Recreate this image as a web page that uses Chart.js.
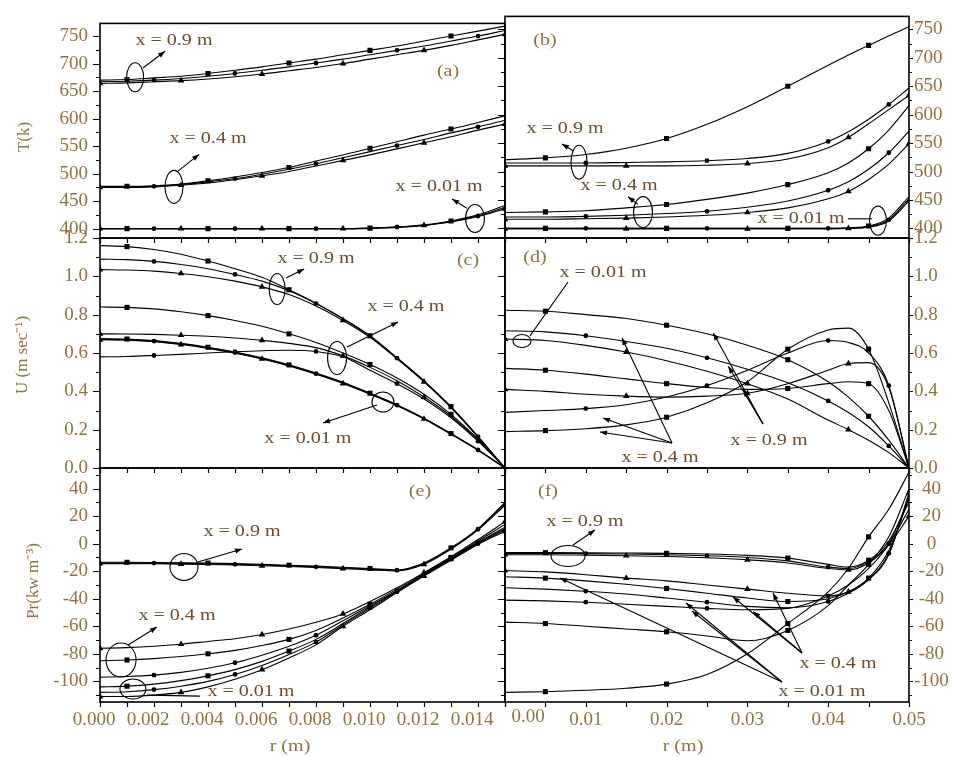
<!DOCTYPE html>
<html>
<head>
<meta charset="utf-8">
<title>T, U, Pr profiles</title>
<script src="https://cdn.jsdelivr.net/npm/chart.js@4.4.0/dist/chart.umd.min.js"></script>
<style>
  html, body { margin: 0; padding: 0; background: #fff; }
  #wrap { position: relative; width: 953px; height: 757px; }
  #wrap canvas { position: absolute; left: 0; top: 0; }
</style>
</head>
<body>
<div id="wrap">
  <canvas id="pa" width="953" height="757"></canvas>
  <canvas id="pb" width="953" height="757"></canvas>
  <canvas id="pc" width="953" height="757"></canvas>
  <canvas id="pd" width="953" height="757"></canvas>
  <canvas id="pe" width="953" height="757"></canvas>
  <canvas id="pf" width="953" height="757"></canvas>
</div>
<script>
// radial positions (m)
const rNarrow = [0, 0.001, 0.002, 0.003, 0.004, 0.005, 0.006, 0.007, 0.008, 0.009, 0.010, 0.011, 0.012, 0.013, 0.014, 0.015];
const rWide = [0, 0.005, 0.01, 0.015, 0.02, 0.025, 0.03, 0.035, 0.04, 0.0425, 0.045, 0.0475, 0.05];

// tick labels
const tempTicks = [400, 450, 500, 550, 600, 650, 700, 750];
const velTicks = [0, 0.2, 0.4, 0.6, 0.8, 1.0, 1.2];
const presTicks = [-100, -80, -60, -40, -20, 0, 20, 40];
const rNarrowTicks = [0, 0.002, 0.004, 0.006, 0.008, 0.010, 0.012, 0.014];
const rWideTicks = [0, 0.01, 0.02, 0.03, 0.04, 0.05];

// (a) T(k), narrow duct
const tA09s = [670, 671, 674, 677, 682, 688, 694, 701, 708, 716, 724, 732, 741, 750, 759, 768];
const tA09c = [667, 668, 670, 673, 677, 682, 688, 694, 701, 708, 716, 724, 732, 741, 750, 760];
const tA09t = [664, 665, 667, 669, 672, 676, 681, 687, 693, 700, 708, 716, 724, 733, 743, 753];
const tA04s = [477, 477, 478, 481, 487, 494, 502, 511, 523, 534, 546, 558, 570, 581, 593, 605];
const tA04c = [476, 476, 477, 480, 485, 491, 499, 508, 518, 529, 540, 551, 562, 574, 585, 597];
const tA04t = [475, 475, 476, 479, 483, 489, 496, 504, 514, 524, 534, 545, 556, 567, 579, 590];
const tA001s = [400, 400, 400, 400, 400, 400, 400, 400, 400, 400, 401, 403, 407, 414, 425, 442];
const tA001c = [400, 400, 400, 400, 400, 400, 400, 400, 400, 400, 401, 403, 406, 413, 423, 439];
const tA001t = [400, 400, 400, 400, 400, 400, 400, 400, 400, 400, 400, 402, 406, 412, 422, 436];

// (b) T(k), wide duct
const tB09s = [521, 524, 530, 541, 558, 583, 614, 650, 687, 705, 722, 739, 755];
const tB09c = [515, 515, 515, 516, 517, 519, 523, 532, 553, 570, 592, 618, 647];
const tB09t = [510, 510, 510, 510, 510, 511, 514, 522, 542, 560, 584, 609, 634];
const tB04s = [428, 429, 431, 436, 442, 451, 462, 477, 498, 515, 540, 573, 616];
const tB04c = [420, 420, 421, 423, 426, 430, 437, 448, 467, 482, 504, 533, 571];
const tB04t = [416, 416, 417, 418, 420, 423, 428, 436, 452, 465, 486, 513, 549];
const tB001s = [400, 400, 400, 400, 400, 400, 400, 400, 400, 401, 404, 418, 456];
const tB001c = [400, 400, 400, 400, 400, 400, 400, 400, 400, 400, 403, 415, 452];
const tB001t = [399, 399, 399, 399, 399, 399, 399, 399, 399, 400, 402, 413, 448];

// (c) U (m/s), narrow duct
const uC09s = [1.16, 1.155, 1.14, 1.115, 1.08, 1.04, 0.995, 0.93, 0.86, 0.78, 0.69, 0.575, 0.455, 0.32, 0.165, 0];
const uC09c = [1.09, 1.087, 1.078, 1.062, 1.04, 1.01, 0.975, 0.925, 0.858, 0.778, 0.688, 0.573, 0.453, 0.318, 0.163, 0];
const uC09t = [1.035, 1.033, 1.027, 1.015, 0.998, 0.975, 0.945, 0.905, 0.845, 0.77, 0.682, 0.57, 0.45, 0.315, 0.16, 0];
const uC04s = [0.84, 0.838, 0.83, 0.815, 0.795, 0.77, 0.74, 0.70, 0.655, 0.60, 0.54, 0.47, 0.385, 0.28, 0.15, 0];
const uC04t = [0.70, 0.699, 0.697, 0.693, 0.687, 0.678, 0.666, 0.65, 0.628, 0.585, 0.525, 0.455, 0.37, 0.27, 0.145, 0];
const uC04c = [0.58, 0.582, 0.587, 0.593, 0.60, 0.607, 0.612, 0.614, 0.608, 0.58, 0.51, 0.44, 0.36, 0.262, 0.14, 0];
const uC001s = [0.675, 0.673, 0.665, 0.65, 0.63, 0.605, 0.575, 0.538, 0.495, 0.447, 0.39, 0.33, 0.26, 0.18, 0.095, 0];
const uC001c = [0.672, 0.670, 0.662, 0.647, 0.627, 0.602, 0.572, 0.535, 0.492, 0.444, 0.388, 0.328, 0.258, 0.178, 0.094, 0];
const uC001t = [0.669, 0.667, 0.659, 0.644, 0.624, 0.599, 0.569, 0.532, 0.489, 0.441, 0.385, 0.325, 0.256, 0.176, 0.093, 0];

// (d) U (m/s), wide duct
const uD001s = [0.823, 0.818, 0.80, 0.78, 0.745, 0.70, 0.64, 0.565, 0.45, 0.37, 0.27, 0.145, 0];
const uD001c = [0.716, 0.71, 0.69, 0.66, 0.625, 0.575, 0.515, 0.445, 0.35, 0.29, 0.215, 0.115, 0];
const uD001t = [0.673, 0.665, 0.64, 0.605, 0.56, 0.505, 0.44, 0.36, 0.25, 0.20, 0.145, 0.08, 0];
const uD04s = [0.52, 0.51, 0.49, 0.465, 0.44, 0.42, 0.41, 0.415, 0.44, 0.45, 0.44, 0.30, 0];
const uD04t = [0.41, 0.40, 0.385, 0.375, 0.37, 0.375, 0.39, 0.44, 0.51, 0.545, 0.55, 0.42, 0];
const uD09c = [0.29, 0.30, 0.31, 0.33, 0.37, 0.43, 0.51, 0.60, 0.665, 0.655, 0.60, 0.43, 0];
const uD09s = [0.19, 0.195, 0.205, 0.225, 0.265, 0.34, 0.45, 0.62, 0.72, 0.73, 0.62, 0.34, 0];

// (e) Pr (kW/m3), narrow duct
const pE09s = [-13.5, -13.5, -13.6, -13.8, -14.1, -14.5, -15, -15.6, -16.3, -17.1, -18, -19, -14, -3, 11, 30];
const pE09c = [-14, -14, -14.1, -14.3, -14.6, -15, -15.5, -16.1, -16.8, -17.6, -18.5, -19.3, -14.5, -3.5, 10.5, 29];
const pE09t = [-14.5, -14.5, -14.6, -14.8, -15.1, -15.5, -16, -16.6, -17.3, -18.1, -19, -19.8, -15, -4, 10, 28];
const pE04t = [-76, -75.5, -74.5, -73, -71, -69, -66, -62, -57, -51, -42, -32, -21, -9.5, 3, 16];
const pE04s = [-85, -84.5, -83.5, -82, -80, -77.5, -74, -69.5, -63, -54, -44, -33, -21.5, -10, 2, 14];
const pE04c = [-97, -96.5, -95.5, -93.5, -90.5, -86.5, -81, -74.5, -66.5, -56, -45, -34, -22, -10.5, 1, 12];
const pE001s = [-104, -103.5, -102, -99.5, -96, -91.5, -85.5, -78, -69.5, -58, -46, -34.5, -22.5, -11, 0.5, 11];
const pE001c = [-108, -107.5, -106, -103.5, -100, -95, -88.5, -80.5, -71.5, -59, -47, -35, -23, -11.5, 0, 10];
const pE001t = [-111, -111, -110, -108, -104, -98.5, -91.5, -83, -73.5, -60, -48, -35.5, -23.5, -12, -0.5, 9];

// (f) Pr (kW/m3), wide duct
const pF09s = [-6.5, -6.5, -6.6, -6.8, -7, -7.5, -8.5, -10.5, -15, -17, -12, 2, 30];
const pF09c = [-7, -7, -7.2, -7.5, -8, -8.8, -10, -12.5, -17, -18, -13, 0, 25];
const pF09t = [-8, -8, -8.3, -8.7, -9.3, -10.2, -11.7, -14, -18, -19, -14, -1, 20];
const pF04t = [-19.5, -20.5, -22.5, -25, -27, -30, -33, -36, -38, -35, -26, -8, 37];
const pF04s = [-24, -25, -27, -29.5, -32.5, -36, -39.5, -42, -40, -35, -25, -5, 33];
const pF04c = [-32, -33, -34.5, -36.5, -39.5, -42.5, -45.5, -46.5, -42, -36, -26, -7, 35];
const pF001c = [-41, -41.5, -42.5, -44, -45.5, -47, -48, -47, -38, -30, -18, 0, 33];
const pF001t = [-57, -58, -60, -62, -64, -67, -70.5, -63, -45, -30, -15, 5, 40];
const pF001s = [-108, -107.5, -106.5, -105, -102, -95, -80, -58, -35, -18, 5, 25, 52];

// which marker each curve carries
const seriesA = [[tA09s, 'rect'], [tA09c, 'circle'], [tA09t, 'triangle'], [tA04s, 'rect'], [tA04c, 'circle'], [tA04t, 'triangle'], [tA001s, 'rect'], [tA001c, 'circle'], [tA001t, 'triangle']];
const seriesB = [[tB09s, 'rect'], [tB09c, 'circle'], [tB09t, 'triangle'], [tB04s, 'rect'], [tB04c, 'circle'], [tB04t, 'triangle'], [tB001s, 'rect'], [tB001c, 'circle'], [tB001t, 'triangle']];
const seriesC = [[uC09s, 'rect'], [uC09c, 'circle'], [uC09t, 'triangle'], [uC04s, 'rect'], [uC04t, 'triangle'], [uC04c, 'circle'], [uC001s, 'rect'], [uC001c, 'circle'], [uC001t, 'triangle']];
const seriesD = [[uD001s, 'rect'], [uD001c, 'circle'], [uD001t, 'triangle'], [uD04s, 'rect'], [uD04t, 'triangle'], [uD09c, 'circle'], [uD09s, 'rect']];
const seriesE = [[pE09s, 'rect'], [pE09c, 'circle'], [pE09t, 'triangle'], [pE04t, 'triangle'], [pE04s, 'rect'], [pE04c, 'circle'], [pE001s, 'rect'], [pE001c, 'circle'], [pE001t, 'triangle']];
const seriesF = [[pF09s, 'rect'], [pF09c, 'circle'], [pF09t, 'triangle'], [pF04t, 'triangle'], [pF04s, 'rect'], [pF04c, 'circle'], [pF001c, 'circle'], [pF001t, 'rect'], [pF001s, 'rect']];

// annotations, in data units: texts [s, r, v], ellipses [r, v, rx, ry], arrows [r1, v1, r2, v2]
const annA = {
  texts: [['x = 0.9 m', 0.00274, 742.6], ['x = 0.4 m', 0.0040, 563.7], ['x = 0.01 m', 0.01256, 475.9], ['(a)', 0.01289, 685.2]],
  ellipses: [[0.0013, 675.1, 8.5, 14.5], [0.00274, 475.9, 9, 16.5], [0.01389, 418.5, 9.5, 14]],
  arrows: [[0.00159, 692, 0.00241, 722.4], [0.00289, 504.6, 0.00367, 535], [0.01359, 437, 0.01304, 454]],
  lines: []
};
const annB = {
  texts: [['(b)', 0.00495, 730.8], ['x = 0.9 m', 0.00743, 575.5], ['x = 0.4 m', 0.01411, 475.9], ['x = 0.01 m', 0.03663, 416.8]],
  ellipses: [[0.00916, 516.4, 8, 17], [0.01708, 428.6, 9.5, 15.5], [0.04616, 413.5, 8.5, 14.5]],
  arrows: [[0.00842, 536.7, 0.00705, 548.5], [0.01646, 442.2, 0.01522, 455.7]],
  lines: [[0.04245, 416.8, 0.04542, 416.8]]
};
const annC = {
  texts: [['(c)', 0.01363, 1.08], ['x = 0.9 m', 0.0080, 1.0904], ['x = 0.4 m', 0.01133, 0.84], ['x = 0.01 m', 0.0077, 0.1514]],
  ellipses: [[0.00656, 0.934, 8, 15.5], [0.00878, 0.574, 9.5, 16.5], [0.01048, 0.3444, 11, 10]],
  arrows: [[0.00689, 0.991, 0.00756, 1.038], [0.00915, 0.631, 0.01104, 0.762], [0.01026, 0.329, 0.00826, 0.235]],
  lines: []
};
const annD = {
  texts: [['(d)', 0.00371, 1.0957], ['x = 0.01 m', 0.01213, 1.0174], ['x = 0.9 m', 0.03267, 0.141], ['x = 0.4 m', 0.01918, 0.0522]],
  ellipses: [[0.0021, 0.6626, 9, 6.5]],
  arrows: [[0.03193, 0.2296, 0.02578, 0.7044], [0.03193, 0.2296, 0.02764, 0.5304], [0.03193, 0.2296, 0.0295, 0.4087],
           [0.02067, 0.1305, 0.01448, 0.6783], [0.02067, 0.1305, 0.01213, 0.261], [0.02067, 0.1305, 0.01176, 0.188]],
  lines: [[0.00309, 0.689, 0.0078, 0.9704]]
};
const annE = {
  texts: [['(e)', 0.01185, 37.56], ['x = 0.9 m', 0.00526, 8.5], ['x = 0.4 m', 0.00285, -52.5], ['x = 0.01 m', 0.00559, -107.7]],
  ellipses: [[0.00311, -16.9, 14, 13.5], [0.00078, -84.5, 15, 17], [0.00122, -105.6, 13, 10]],
  arrows: [[0.00363, -13.3, 0.00526, -3.85], [0.00104, -73.6, 0.00211, -60.5]],
  lines: [[0.00174, -110, 0.0037, -110.7]]
};
const annF = {
  texts: [['(f)', 0.00532, 37.56], ['x = 0.9 m', 0.0099, 15.8], ['x = 0.4 m', 0.04121, -86.7], ['x = 0.01 m', 0.03923, -107.7]],
  ellipses: [[0.0078, -8.9, 17, 10.5]],
  arrows: [[0.00842, -0.94, 0.01114, 9.96],
           [0.03676, -79.4, 0.03317, -35.8], [0.03676, -79.4, 0.02822, -38.7], [0.03676, -79.4, 0.03073, -49.4],
           [0.03428, -100.5, 0.00681, -24.9], [0.03428, -100.5, 0.0224, -43.1], [0.03428, -100.5, 0.02314, -48.9]],
  lines: []
};

const TICK_COLOR = '#94703f';
const NOTE_COLOR = '#6b4c2c';
const SERIF = 'Liberation Serif';
const markerPhase = {rect: 1, circle: 2, triangle: 0};
const markerSize = {rect: 3.6, circle: 2.4, triangle: 3.8};

const W = 953, H = 757;
const cols = [{left: 100, right: 505}, {left: 505, right: 909}];
const rows = [{top: 7, bottom: 238}, {top: 238, bottom: 468}, {top: 468, bottom: 702}];

function stretchText(ctx, s, x, y, size, color, sx, rot) {
  ctx.save();
  ctx.translate(x, y);
  if (rot) ctx.rotate(rot);
  ctx.scale(sx, 1);
  ctx.font = size + 'px "' + SERIF + '"';
  ctx.fillStyle = color;
  ctx.textAlign = 'center';
  ctx.textBaseline = 'middle';
  ctx.fillText(s, 0, 0);
  ctx.restore();
}

function arrow(ctx, x1, y1, x2, y2, head) {
  ctx.beginPath();
  ctx.moveTo(x1, y1);
  ctx.lineTo(x2, y2);
  ctx.stroke();
  if (!head) return;
  const ang = Math.atan2(y2 - y1, x2 - x1), L = 7, Wd = 2.6;
  const c = Math.cos(ang), s = Math.sin(ang);
  ctx.beginPath();
  ctx.moveTo(x2, y2);
  ctx.lineTo(x2 - L * c + Wd * s, y2 - L * s - Wd * c);
  ctx.lineTo(x2 - L * c - Wd * s, y2 - L * s + Wd * c);
  ctx.closePath();
  ctx.fill();
}

const decor = {
  id: 'decor',
  afterDatasetsDraw(chart, args, o) {
    const {ctx, chartArea: a} = chart;
    const xs = chart.scales.x, ys = chart.scales.y;
    const X = v => xs.getPixelForValue(v), Y = v => ys.getPixelForValue(v);
    ctx.save();
    ctx.strokeStyle = '#000';
    ctx.fillStyle = '#000';

    // frame
    ctx.lineWidth = 1.6;
    ctx.strokeRect(a.left, a.top, a.right - a.left, a.bottom - a.top);

    // tick marks, all pointing outwards
    ctx.lineWidth = 1.2;
    ctx.beginPath();
    const nx = Math.round((o.xMax - o.xMin) / o.xMinor);
    for (let k = 0; k <= nx; k++) {
      const v = o.xMin + k * o.xMinor;
      const px = Math.round(X(v)) + 0.5;
      ctx.moveTo(px, a.bottom);
      ctx.lineTo(px, a.bottom + 5);
    }
    const k0 = Math.ceil(ys.min / o.yMinor - 1e-9), k1 = Math.floor(ys.max / o.yMinor + 1e-9);
    for (let k = k0; k <= k1; k++) {
      const v = k * o.yMinor;
      const py = Math.round(Y(v)) + 0.5;
      const major = o.yTicks.some(t => Math.abs(t - v) < 1e-9);
      const len = major ? 7 : 4;
      ctx.moveTo(a.left, py); ctx.lineTo(a.left - len, py);
      if (o.rightAxis) { ctx.moveTo(a.right, py); ctx.lineTo(a.right + (major ? 4 : 3), py); }
    }
    ctx.stroke();

    // annotations
    const ann = o.ann;
    ctx.lineWidth = 1.1;
    ann.ellipses.forEach(([r, v, rx, ry]) => {
      ctx.beginPath();
      ctx.ellipse(X(r), Y(v), rx, ry, 0, 0, Math.PI * 2);
      ctx.stroke();
    });
    ann.arrows.forEach(([r1, v1, r2, v2]) => arrow(ctx, X(r1), Y(v1), X(r2), Y(v2), true));
    ann.lines.forEach(([r1, v1, r2, v2]) => arrow(ctx, X(r1), Y(v1), X(r2), Y(v2), false));
    ann.texts.forEach(([s, r, v]) => {
      const isLetter = s.charAt(0) === '(';
      stretchText(ctx, s, X(r), Y(v), 17, isLetter ? TICK_COLOR : NOTE_COLOR, 1.18, 0);
    });

    // axis titles
    (o.titles || []).forEach(t => stretchText(ctx, t.text, t.x, t.y, 17, TICK_COLOR, t.sx || 1, t.rot || 0));

    // the first label of the wide-duct r axis sits right of its tick
    if (o.zeroLabel) {
      ctx.font = '19px "' + SERIF + '"';
      ctx.fillStyle = TICK_COLOR;
      ctx.textAlign = 'center';
      ctx.textBaseline = 'middle';
      ctx.fillText('0.00', X(0) + 23, 717);
    }
    ctx.restore();
  }
};

function buildDatasets(rs, series) {
  return series.map(([vals, shape]) => ({
    data: rs.map((r, i) => ({x: r, y: vals[i]})),
    borderColor: '#000',
    borderWidth: 1.1,
    pointStyle: shape,
    pointBackgroundColor: '#000',
    pointBorderColor: '#000',
    pointBorderWidth: 0,
    pointRadius: c => (c.dataIndex % 3 === markerPhase[shape]) ? markerSize[shape] : 0,
    cubicInterpolationMode: 'monotone',
    fill: false
  }));
}

function makePanel(p) {
  const col = cols[p.col], row = rows[p.row];
  const wide = p.col === 1;
  const bottomRow = p.row === 2;
  const xTicks = wide ? rWideTicks : rNarrowTicks;
  const xMax = wide ? 0.05 : 0.015;
  const xMinor = wide ? 0.005 : 0.001;
  // the axis boxes take up the margin so their labels are not clipped
  const yBox = wide ? W - col.right : col.left;
  const xBox = bottomRow ? H - row.bottom : 0;
  new Chart(document.getElementById(p.id), {
    type: 'line',
    data: {datasets: buildDatasets(wide ? rWide : rNarrow, p.series)},
    options: {
      responsive: false,
      devicePixelRatio: 1,
      animation: false,
      events: [],
      layout: {padding: {
        left: wide ? col.left : 0,
        right: wide ? 0 : W - col.right,
        top: row.top,
        bottom: H - row.bottom - xBox
      }},
      plugins: {
        legend: {display: false},
        tooltip: {enabled: false},
        decor: {
          xMin: 0, xMax: xMax, xMinor: xMinor,
          yTicks: p.yTicks, yMinor: p.yMinor,
          rightAxis: wide, ann: p.ann, titles: p.titles,
          zeroLabel: wide && bottomRow
        }
      },
      scales: {
        x: {
          type: 'linear', position: 'bottom', min: 0, max: xMax,
          afterBuildTicks: s => { s.ticks = xTicks.map(v => ({value: v})); },
          afterFit: s => { s.height = xBox; },
          grid: {display: false, drawTicks: false},
          border: {display: false},
          ticks: {
            display: bottomRow, autoSkip: false, maxRotation: 0, minRotation: 0,
            padding: 7, labelOffset: wide ? 0 : -6,
            font: {family: SERIF, size: 19}, color: TICK_COLOR,
            callback: v => wide ? (v === 0 ? '' : v.toFixed(2)) : v.toFixed(3)
          }
        },
        y: {
          type: 'linear', position: wide ? 'right' : 'left', min: p.yMin, max: p.yMax,
          afterBuildTicks: s => { s.ticks = p.yTicks.map(v => ({value: v})); },
          afterFit: s => { s.width = yBox; },
          grid: {display: false, drawTicks: false},
          border: {display: false},
          ticks: {
            autoSkip: false, padding: wide ? 5 : 12,
            crossAlign: wide ? 'center' : 'near',
            font: {family: SERIF, size: 19}, color: TICK_COLOR,
            callback: p.yFmt
          }
        }
      }
    },
    plugins: [decor]
  });
}

const fmtInt = v => String(Math.round(v));
const fmtOne = v => v.toFixed(1);

makePanel({id: 'pa', col: 0, row: 0, series: seriesA, yMin: 383, yMax: 773, yTicks: tempTicks, yMinor: 25, yFmt: fmtInt, ann: annA,
  titles: [{text: 'T(k)', x: 25, y: 137, rot: -Math.PI / 2}]});
makePanel({id: 'pb', col: 1, row: 0, series: seriesB, yMin: 383, yMax: 773, yTicks: tempTicks, yMinor: 25, yFmt: fmtInt, ann: annB});
makePanel({id: 'pc', col: 0, row: 1, series: seriesC, yMin: 0, yMax: 1.2, yTicks: velTicks, yMinor: 0.1, yFmt: fmtOne, ann: annC,
  titles: [{text: 'U (m sec\u207B\u00B9)', x: 23, y: 355, rot: -Math.PI / 2}]});
makePanel({id: 'pd', col: 1, row: 1, series: seriesD, yMin: 0, yMax: 1.2, yTicks: velTicks, yMinor: 0.1, yFmt: fmtOne, ann: annD});
makePanel({id: 'pe', col: 0, row: 2, series: seriesE, yMin: -115, yMax: 55, yTicks: presTicks, yMinor: 10, yFmt: fmtInt, ann: annE,
  titles: [{text: 'Pr(kw m\u207B\u00B3)', x: 34, y: 581, rot: -Math.PI / 2}, {text: 'r (m)', x: 290, y: 747, sx: 1.18}]});
makePanel({id: 'pf', col: 1, row: 2, series: seriesF, yMin: -115, yMax: 55, yTicks: presTicks, yMinor: 10, yFmt: fmtInt, ann: annF,
  titles: [{text: 'r (m)', x: 683, y: 747, sx: 1.18}]});
</script>
</body>
</html>
